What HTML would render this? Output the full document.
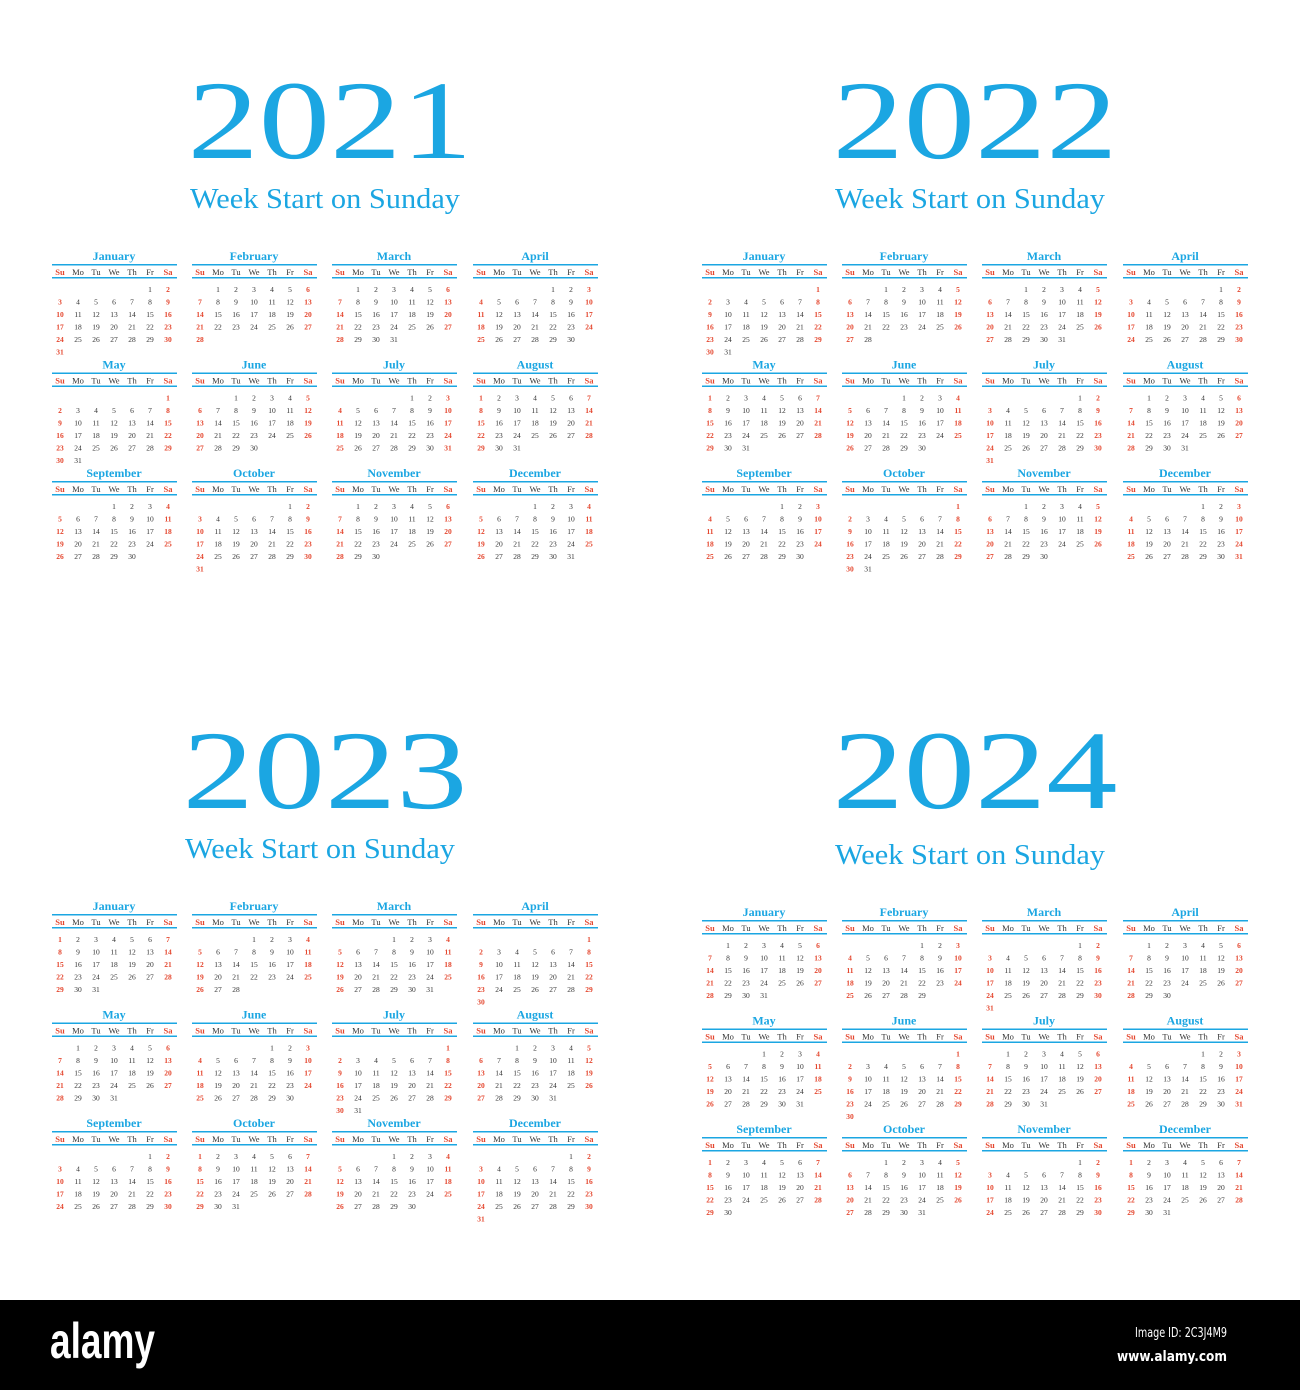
<!DOCTYPE html>
<html><head><meta charset="utf-8"><style>
body{margin:0;background:#fff}
svg{display:block}
</style></head><body>
<svg id="cal" width="1300" height="1390" viewBox="0 0 1300 1390" xmlns="http://www.w3.org/2000/svg">
<rect width="1300" height="1390" fill="#fff"/>
<rect x="0" y="1300" width="1300" height="90" fill="#000"/>
<text x="50" y="1358" font-family="Liberation Sans, sans-serif" font-weight="bold" font-size="50" fill="#fff" textLength="105" lengthAdjust="spacingAndGlyphs">alamy</text>
<text x="1227" y="1337" text-anchor="end" font-family="DejaVu Sans, sans-serif" font-size="13" fill="#fff" textLength="92" lengthAdjust="spacingAndGlyphs">Image ID: 2C3J4M9</text>
<text x="1227" y="1361" text-anchor="end" font-family="DejaVu Sans, sans-serif" font-weight="bold" font-size="14" fill="#fff" textLength="110" lengthAdjust="spacingAndGlyphs">www.alamy.com</text>
</svg>
<script>
const years=[2021,2022,2023,2024];
const monthNames=["January","February","March","April","May","June","July","August","September","October","November","December"];
const dayNames=["Su","Mo","Tu","We","Th","Fr","Sa"];
const subtitle="Week Start on Sunday";
const NS="http://www.w3.org/2000/svg";
const svg=document.getElementById('cal');
const BLUE="#1ba6e2",RED="#e4472f";
const quads=[{cx:330,ox:0,ty:158,sy:208,my:256},{cx:975,ox:650,ty:158,sy:208,my:256},{cx:325,ox:0,ty:808,sy:858,my:906},{cx:975,ox:650,ty:808,sy:864,my:912}];
const colX=[52,192,332,473];
function mk(tag,attrs,txt){const e=document.createElementNS(NS,tag);for(const k in attrs)e.setAttribute(k,attrs[k]);if(txt!=null)e.textContent=txt;svg.appendChild(e);return e;}
years.forEach((yr,q)=>{
  const Q=quads[q];
  const t=mk('text',{x:Q.cx,y:Q.ty,'text-anchor':'middle','font-family':'Liberation Serif, serif','font-size':112,fill:BLUE,textLength:285,lengthAdjust:'spacingAndGlyphs'},String(yr));
  
  
  const s=mk('text',{x:Q.cx-5,y:Q.sy,'text-anchor':'middle','font-family':'Liberation Serif, serif','font-size':28,fill:BLUE,textLength:270,lengthAdjust:'spacingAndGlyphs'},subtitle);
  
  
  for(let m=0;m<12;m++){
    const x0=colX[m%4]+Q.ox, y0=Q.my+Math.floor(m/4)*108.5;
    const mn=mk('text',{x:x0+62,y:y0+4,'text-anchor':'middle','font-family':'Liberation Serif, serif','font-weight':'bold','font-size':12,fill:BLUE},monthNames[m]);
    
    
    const l1=mk('rect',{x:x0,y:y0+8,width:125,height:1.5,fill:BLUE});
    
    
    const l2=mk('rect',{x:x0,y:y0+21,width:125,height:1.5,fill:BLUE});
    
    
    dayNames.forEach((d,i)=>{
      const h=mk('text',{x:x0+8+18*i,y:y0+19,'text-anchor':'middle','font-family':'Liberation Serif, serif','font-size':8.5,'font-weight':(i==0||i==6)?'bold':'normal',fill:(i==0||i==6)?RED:'#333'},d);
      
      
    });
    const first=new Date(yr,m,1).getDay(), nd=new Date(yr,m+1,0).getDate();
    for(let d=1;d<=nd;d++){
      const idx=first+d-1, c=idx%7, r=Math.floor(idx/7);
      const n=mk('text',{x:x0+8+18*c,y:y0+36+12.5*r,'text-anchor':'middle','font-family':'Liberation Serif, serif','font-size':7.5,'font-weight':(c==0||c==6)?'bold':'normal',fill:(c==0||c==6)?RED:'#333'},String(d));
      
      
    }
  }
});
</script>
</body></html>
